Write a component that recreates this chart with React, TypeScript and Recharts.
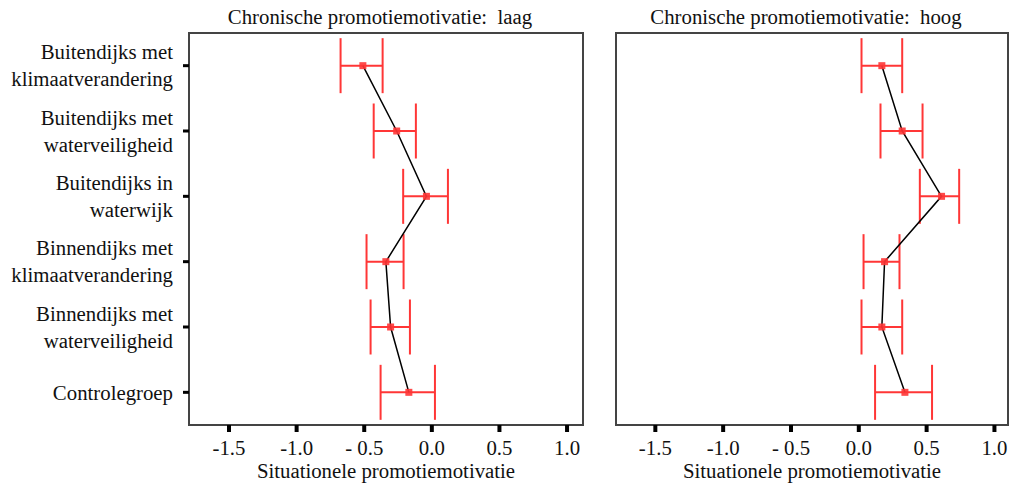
import { ComposedChart, ErrorBar, Label, Line, ReferenceArea, XAxis, YAxis } from "recharts";

const categories = [
  "Buitendijks met klimaatverandering",
  "Buitendijks met waterveiligheid",
  "Buitendijks in waterwijk",
  "Binnendijks met klimaatverandering",
  "Binnendijks met waterveiligheid",
  "Controlegroep",
];

const lowMean = [-0.51, -0.26, -0.04, -0.34, -0.305, -0.17];
const lowLower = [-0.675, -0.43, -0.212, -0.483, -0.453, -0.379];
const lowUpper = [-0.364, -0.118, 0.119, -0.209, -0.162, 0.023];

const highMean = [0.17, 0.32, 0.61, 0.19, 0.17, 0.34];
const highLower = [0.02, 0.16, 0.45, 0.035, 0.02, 0.12];
const highUpper = [0.32, 0.47, 0.74, 0.3, 0.32, 0.54];

const xTicks = [-1.5, -1.0, -0.5, 0, 0.5, 1.0];
const xTickLabels = ["-1.5", "-1.0", "- 0.5", "0.0", "0.5", "1.0"];

const FONT = "'Liberation Serif', 'Times New Roman', serif";
const FS = 20.8;
const RED = "#ff3636";
const FRAME = "#444";

function rows(mean: number[], lower: number[], upper: number[]) {
  return categories.map((name, i) => ({
    name,
    mean: mean[i],
    err: [mean[i] - lower[i], upper[i] - mean[i]],
  }));
}

// category labels are wrapped after the second word, right aligned
function CategoryTick({ x, y, payload }: any) {
  const words = String(payload.value).split(" ");
  const lines = words.length > 2 ? [words.slice(0, 2).join(" "), words.slice(2).join(" ")] : [words.join(" ")];
  const lh = 27;
  const top = y - ((lines.length - 1) * lh) / 2;
  return (
    <text x={x - 4} y={top} textAnchor="end" fontFamily={FONT} fontSize={FS} fill="#111">
      {lines.map((l, i) => (
        <tspan key={i} x={x - 4} y={top + i * lh} dy="0.35em">
          {l}
        </tspan>
      ))}
    </text>
  );
}

function SquareDot({ cx, cy, index }: any) {
  if (cx == null || cy == null) return <g key={index} />;
  return <rect key={index} x={cx - 3.5} y={cy - 3.5} width={7} height={7} fill={RED} fillOpacity={0.9} />;
}

function Panel({
  data,
  width,
  yWidth,
  right,
  domain,
  showLabels,
}: {
  data: { name: string; mean: number; err: number[] }[];
  width: number;
  yWidth: number;
  right: number;
  domain: [number, number];
  showLabels: boolean;
}) {
  return (
    <ComposedChart
      layout="vertical"
      width={width}
      height={486}
      data={data}
      margin={{ top: 33, right, bottom: 0, left: 0 }}
    >
      <XAxis
        type="number"
        domain={domain}
        allowDataOverflow
        ticks={xTicks}
        interval={0}
        tickFormatter={(v: number) => xTickLabels[xTicks.indexOf(v)] ?? String(v)}
        height={61}
        tickSize={7}
        tickMargin={8}
        tickLine={{ stroke: "#000", strokeWidth: 4 }}
        axisLine={{ stroke: FRAME, strokeWidth: 2 }}
        tick={{ fill: "#111", fontFamily: FONT, fontSize: FS }}
      >
        <Label
          value="Situationele promotiemotivatie"
          position="insideBottom"
          offset={8}
          style={{ fill: "#111", fontFamily: FONT, fontSize: FS }}
        />
      </XAxis>
      <YAxis
        type="category"
        dataKey="name"
        scale="band"
        width={yWidth}
        interval={0}
        tickSize={6}
        tickMargin={6}
        tickLine={{ stroke: "#000", strokeWidth: 3 }}
        axisLine={{ stroke: FRAME, strokeWidth: 2 }}
        tick={showLabels ? <CategoryTick /> : false}
      />
      <ReferenceArea x1={domain[0]} x2={domain[1]} fill="none" stroke={FRAME} strokeWidth={2} />
      <Line
        dataKey="mean"
        stroke="#000"
        strokeWidth={1.5}
        dot={<SquareDot />}
        activeDot={false}
        isAnimationActive={false}
      >
        <ErrorBar dataKey="err" direction="x" width={27.5} stroke={RED} strokeWidth={2} />
      </Line>
    </ComposedChart>
  );
}

export default function App() {
  const titleStyle: React.CSSProperties = {
    position: "absolute",
    top: 6,
    fontFamily: FONT,
    fontSize: FS,
    lineHeight: "22px",
    color: "#111",
    whiteSpace: "nowrap",
    transform: "translateX(-50%)",
  };
  return (
    <div style={{ position: "absolute", left: 0, top: 0, width: 1015, height: 486, background: "#fff" }}>
      <div style={{ ...titleStyle, left: 380 }}>Chronische promotiemotivatie:&nbsp; laag</div>
      <div style={{ ...titleStyle, left: 806 }}>Chronische promotiemotivatie:&nbsp; hoog</div>
      <div style={{ position: "absolute", left: 0, top: 0 }}>
        <Panel
          data={rows(lowMean, lowLower, lowUpper)}
          width={600}
          yWidth={189}
          right={17}
          domain={[-1.796, 1.118]}
          showLabels
        />
      </div>
      <div style={{ position: "absolute", left: 600, top: 0 }}>
        <Panel
          data={rows(highMean, highLower, highUpper)}
          width={415}
          yWidth={16}
          right={7}
          domain={[-1.79, 1.1]}
          showLabels={false}
        />
      </div>
    </div>
  );
}
